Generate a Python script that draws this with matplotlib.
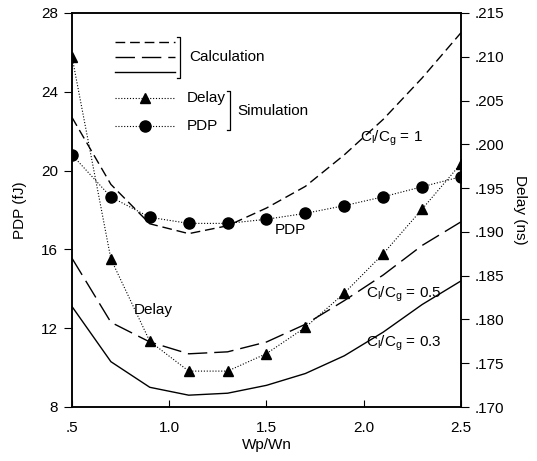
import matplotlib
matplotlib.use("Agg")
import matplotlib.pyplot as plt

plt.rcParams["font.family"] = ["Liberation Sans", "DejaVu Sans"]
plt.rcParams["mathtext.fontset"] = "custom"
plt.rcParams["mathtext.rm"] = "Liberation Sans"
plt.rcParams["mathtext.it"] = "Liberation Sans"

# Wp/Wn ratio
wp_wn = [0.5, 0.7, 0.9, 1.1, 1.3, 1.5, 1.7, 1.9, 2.1, 2.3, 2.5]

# calculation curves (PDP axis)
calc_c1 = [22.7, 19.3, 17.3, 16.8, 17.2, 18.1, 19.2, 20.8, 22.6, 24.7, 27.0]
calc_c05 = [15.55, 12.3, 11.3, 10.7, 10.8, 11.3, 12.2, 13.4, 14.7, 16.2, 17.4]
calc_c03 = [13.1, 10.3, 9.0, 8.6, 8.7, 9.1, 9.7, 10.6, 11.8, 13.2, 14.4]

# simulation
sim_delay = [0.2100, 0.1869, 0.1775, 0.1741, 0.1741, 0.1761,
             0.1791, 0.1830, 0.1875, 0.1926, 0.1978]
sim_pdp = [20.8, 18.66, 17.63, 17.32, 17.32, 17.53,
           17.83, 18.22, 18.67, 19.18, 19.69]

x_ticks = [0.5, 1.0, 1.5, 2.0, 2.5]
x_ticklabels = [".5", "1.0", "1.5", "2.0", "2.5"]
pdp_ticks = [8, 12, 16, 20, 24, 28]
delay_ticks = [0.170, 0.175, 0.180, 0.185, 0.190, 0.195, 0.200, 0.205, 0.210, 0.215]

FS = 11
fig = plt.figure(figsize=(5.37, 4.61), dpi=100)
ax = fig.add_axes([72 / 537, 1 - 407 / 461, (461 - 72) / 537, (407 - 13) / 461])
ax2 = ax.twinx()

dotted = (0, (1, 1.6))
ax.plot(wp_wn, calc_c1, color="black", lw=1.0, dashes=(7, 3.5))
ax.plot(wp_wn, calc_c05, color="black", lw=1.0, dashes=(14, 5))
ax.plot(wp_wn, calc_c03, color="black", lw=1.0)
ax.plot(wp_wn, sim_pdp, color="black", lw=0.8, linestyle=dotted,
        marker="o", markersize=8)
ax2.plot(wp_wn, sim_delay, color="black", lw=0.8, linestyle=dotted,
         marker="^", markersize=7)

ax.set_xlim(0.5, 2.5)
ax.set_ylim(8, 28)
ax2.set_ylim(0.170, 0.215)
ax.set_xticks(x_ticks)
ax.set_xticklabels(x_ticklabels)
ax.set_yticks(pdp_ticks)
ax2.set_yticks(delay_ticks)
ax2.set_yticklabels(["." + f"{v:.3f}".split(".")[1] for v in delay_ticks])

ax.tick_params(axis="x", direction="in", length=5, labelsize=FS, pad=10)
ax.tick_params(axis="y", direction="out", length=6, labelsize=FS, pad=4)
ax2.tick_params(axis="y", direction="out", length=6, labelsize=FS, pad=4)
for a in (ax, ax2):
    for s in a.spines.values():
        s.set_linewidth(1.1)

ax.set_xlabel("Wp/Wn", fontsize=FS, labelpad=2)
ax.set_ylabel("PDP (fJ)", fontsize=FS, labelpad=10)
ax2.set_ylabel("Delay (ns)", fontsize=FS, rotation=270, labelpad=16)

# curve annotations
ax.text(1.98, 21.65, r"$\mathregular{C_l/C_g}$ = 1", fontsize=FS, va="center")
ax.text(2.01, 13.74, r"$\mathregular{C_l/C_g}$ = 0.5", fontsize=FS, va="center")
ax.text(2.01, 11.25, r"$\mathregular{C_l/C_g}$ = 0.3", fontsize=FS, va="center")
ax.text(1.54, 16.98, "PDP", fontsize=FS, va="center")
ax.text(0.82, 12.9, "Delay", fontsize=FS, va="center")


# hand-drawn legend in axes coordinates
def px(xp, yp):
    return (xp - 72) / 389, (407 - yp) / 394


tr = ax.transAxes
for yp, kw in [(42, dict(dashes=(7, 3.5))), (57, dict(dashes=(14, 5))), (72, {})]:
    (x0, y0), (x1, _) = px(115, yp), px(175, yp)
    ax.plot([x0, x1], [y0, y0], color="black", lw=1.0, transform=tr, **kw)
for yp, mk, ms in [(98, "^", 7), (126, "o", 8)]:
    (x0, y0), (x1, _) = px(115, yp), px(175, yp)
    ax.plot([x0, x1], [y0, y0], color="black", lw=0.8, linestyle=dotted, transform=tr)
    ax.plot([(x0 + x1) / 2], [y0], color="black", marker=mk, markersize=ms,
            transform=tr, linestyle="none")


def bracket(xp, ytop, ybot):
    (xa, ya), (xb, yb) = px(xp - 3, ytop), px(xp, ybot)
    ax.plot([xa, xb, xb, xa], [ya, ya, yb, yb], color="black", lw=0.9, transform=tr)


bracket(180, 37, 78)
bracket(230, 91, 130)
ax.text(*px(189, 57), "Calculation", transform=tr, fontsize=FS, va="center")
ax.text(*px(187, 98), "Delay", transform=tr, fontsize=FS, va="center")
ax.text(*px(187, 126), "PDP", transform=tr, fontsize=FS, va="center")
ax.text(*px(237, 111), "Simulation", transform=tr, fontsize=FS, va="center")

fig.savefig("out.png", dpi=100)
